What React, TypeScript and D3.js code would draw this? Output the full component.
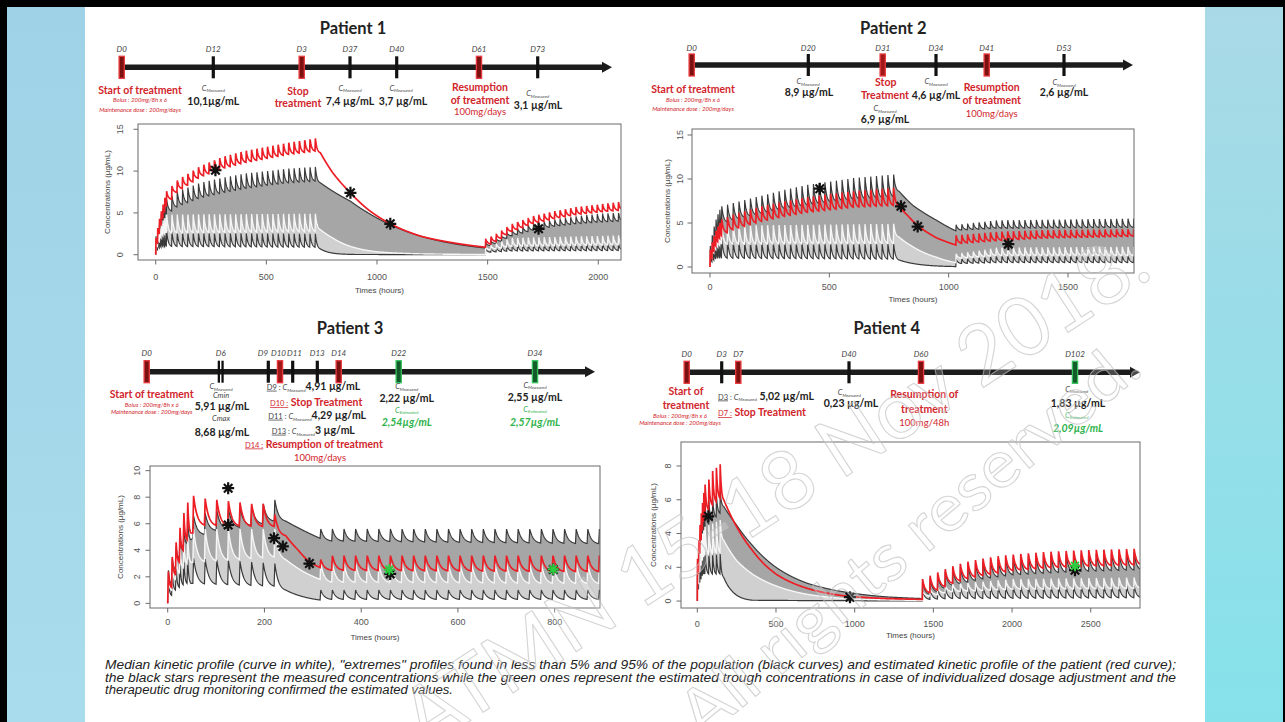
import React from 'react';
import * as d3 from 'd3';

// ---------- dosing regimens: [first dose (h), last dose (h), interval (h)] ----------
const p1Regimen = [[0, 40, 8], [48, 720, 24], [1490, 2090, 24]];
const p2Regimen = [[0, 40, 8], [48, 768, 24], [1030, 1780, 24]];
const p3Regimen = [[0, 40, 8], [52, 220, 24], [315, 893, 24]];
const p4Regimen = [[0, 40, 8], [48, 144, 24], [1430, 2810, 48]];

// ---------- curves: [time (h), concentration (µg/mL)] ----------
// peaks = value reached right after a dose, troughs = value just before a dose / washout
const p1RedPeaks = [[0, 2.0], [8, 3.2], [16, 4.3], [24, 5.2], [32, 6.0], [40, 6.8], [48, 7.6], [100, 9.0], [200, 10.6], [300, 11.7], [400, 12.4], [500, 12.9], [600, 13.4], [720, 13.9], [1490, 1.9], [1600, 3.6], [1700, 4.6], [1800, 5.2], [1900, 5.7], [2000, 6.0], [2090, 6.3]];
const p1RedTroughs = [[0, 0], [8, 1.4], [16, 2.6], [24, 3.6], [32, 4.4], [40, 5.2], [48, 5.9], [100, 7.6], [200, 9.3], [300, 10.3], [400, 11.0], [500, 11.5], [600, 12.0], [720, 12.4], [744, 12.2], [800, 9.8], [880, 7.4], [960, 5.4], [1060, 3.7], [1200, 2.2], [1350, 1.4], [1490, 0.9], [1514, 1.3], [1600, 2.7], [1700, 3.7], [1800, 4.3], [1900, 4.8], [2000, 5.1], [2090, 5.3]];
const p1UpperPeaks = [[0, 2.2], [8, 3.2], [16, 4.0], [24, 4.8], [32, 5.5], [40, 6.1], [48, 6.6], [100, 7.6], [200, 8.6], [300, 9.2], [400, 9.7], [500, 10.0], [600, 10.3], [720, 10.5], [1490, 1.4], [1600, 2.9], [1700, 3.7], [1800, 4.2], [1900, 4.6], [2000, 4.9], [2090, 5.0]];
const p1UpperTroughs = [[0, 0], [8, 1.3], [16, 2.3], [24, 3.1], [32, 3.8], [40, 4.3], [48, 4.8], [100, 5.8], [200, 6.8], [300, 7.4], [400, 7.9], [500, 8.3], [600, 8.6], [720, 8.8], [744, 8.6], [800, 7.6], [880, 6.4], [960, 5.0], [1060, 3.6], [1200, 2.2], [1350, 1.3], [1490, 0.8], [1514, 1.1], [1600, 2.2], [1700, 2.9], [1800, 3.4], [1900, 3.7], [2000, 3.9], [2090, 4.0]];
const p1WhitePeaks = [[0, 1.8], [8, 2.6], [16, 3.2], [24, 3.7], [32, 4.1], [40, 4.4], [48, 4.8], [720, 4.9], [1490, 1.0], [1600, 2.0], [2090, 2.3]];
const p1WhiteTroughs = [[0, 0], [8, 1.0], [16, 1.6], [24, 2.0], [32, 2.3], [40, 2.5], [48, 2.6], [720, 2.8], [744, 3.0], [800, 2.0], [880, 1.0], [1000, 0.35], [1200, 0.1], [1490, 0.03], [1514, 0.6], [1600, 1.0], [2090, 1.2]];
const p1LowerPeaks = [[0, 1.6], [8, 2.0], [16, 2.3], [24, 2.5], [32, 2.6], [40, 2.7], [48, 2.8], [100, 2.6], [720, 2.5], [1490, 0.7], [1600, 1.2], [2090, 1.3]];
const p1LowerTroughs = [[0, 0], [8, 0.6], [16, 0.8], [24, 0.9], [32, 1.0], [40, 1.0], [48, 1.0], [720, 0.9], [744, 0.7], [780, 0.3], [830, 0.1], [900, 0.03], [1490, 0.01], [1514, 0.3], [1600, 0.45], [2090, 0.5]];
const p1Stars = [[270, 10.1], [880, 7.4], [1060, 3.7], [1730, 3.1]];
const p1Green = [];

const p2RedPeaks = [[0, 2.0], [8, 2.8], [16, 3.5], [24, 4.1], [32, 4.6], [40, 5.0], [48, 5.4], [100, 6.0], [200, 6.8], [300, 7.4], [400, 7.9], [500, 8.3], [600, 8.6], [768, 9.0], [1030, 3.6], [1200, 4.0], [1400, 4.2], [1780, 4.3]];
const p2RedTroughs = [[0, 0], [8, 1.0], [16, 1.8], [24, 2.4], [32, 2.9], [40, 3.3], [48, 3.6], [100, 4.3], [200, 5.1], [300, 5.7], [400, 6.2], [500, 6.5], [600, 6.8], [768, 7.0], [792, 6.9], [830, 5.8], [870, 4.7], [950, 3.3], [1030, 2.5], [1054, 2.7], [1200, 3.0], [1400, 3.3], [1780, 3.5]];
const p2UpperPeaks = [[0, 2.4], [8, 3.6], [16, 4.6], [24, 5.4], [32, 6.0], [40, 6.5], [48, 6.9], [100, 7.3], [200, 8.0], [300, 8.7], [400, 9.3], [500, 9.7], [600, 10.1], [768, 10.5], [1030, 4.8], [1200, 5.3], [1780, 5.5]];
const p2UpperTroughs = [[0, 0], [8, 1.6], [16, 2.8], [24, 3.6], [32, 4.2], [40, 4.6], [48, 4.9], [100, 5.4], [200, 6.0], [300, 6.6], [400, 7.0], [500, 7.4], [600, 7.7], [768, 8.0], [792, 8.6], [850, 7.0], [950, 5.3], [1030, 4.1], [1054, 4.2], [1200, 4.4], [1780, 4.5]];
const p2WhitePeaks = [[0, 1.8], [8, 2.6], [16, 3.2], [24, 3.7], [32, 4.1], [40, 4.4], [48, 4.7], [768, 4.9], [1030, 1.5], [1200, 2.2], [1780, 2.3]];
const p2WhiteTroughs = [[0, 0], [8, 1.0], [16, 1.6], [24, 2.0], [32, 2.3], [40, 2.5], [48, 2.6], [768, 2.7], [792, 3.4], [850, 2.3], [950, 1.1], [1030, 0.5], [1054, 1.0], [1200, 1.3], [1780, 1.3]];
const p2LowerPeaks = [[0, 1.8], [8, 2.4], [16, 2.8], [24, 3.0], [32, 3.1], [40, 3.2], [48, 3.2], [100, 2.8], [768, 2.6], [1030, 0.9], [1200, 1.3], [1780, 1.3]];
const p2LowerTroughs = [[0, 0], [8, 0.6], [16, 0.8], [24, 0.9], [32, 1.0], [40, 1.0], [48, 1.0], [768, 0.9], [792, 0.8], [850, 0.4], [950, 0.12], [1030, 0.05], [1054, 0.4], [1200, 0.5], [1780, 0.5]];
const p2Stars = [[460, 8.9], [800, 6.9], [870, 4.6], [1250, 2.6]];
const p2Green = [];

const p3RedPeaks = [[0, 2.4], [8, 3.5], [16, 4.6], [24, 5.7], [32, 6.8], [40, 7.6], [52, 8.1], [76, 7.9], [100, 7.8], [124, 7.7], [148, 7.6], [172, 7.5], [196, 7.5], [220, 6.7], [315, 3.3], [340, 3.6], [893, 3.6]];
const p3RedTroughs = [[0, 0], [8, 1.2], [16, 2.2], [24, 3.1], [32, 4.0], [40, 4.8], [48, 5.3], [52, 5.3], [76, 5.9], [196, 5.8], [220, 5.8], [244, 5.1], [270, 4.0], [293, 3.1], [315, 2.7], [339, 2.5], [893, 2.4]];
const p3UpperPeaks = [[0, 2.5], [8, 3.4], [16, 4.3], [24, 5.0], [32, 5.6], [40, 6.1], [52, 6.6], [100, 7.0], [196, 7.5], [220, 7.8], [315, 5.6], [893, 5.6]];
const p3UpperTroughs = [[0, 0], [8, 1.5], [16, 2.6], [24, 3.4], [32, 4.0], [40, 4.5], [48, 4.8], [52, 4.9], [100, 5.5], [196, 6.0], [220, 6.2], [244, 6.2], [280, 5.5], [315, 4.9], [339, 4.7], [893, 4.5]];
const p3WhitePeaks = [[0, 2.0], [8, 2.8], [16, 3.5], [24, 4.1], [32, 4.6], [40, 5.0], [52, 5.6], [220, 5.6], [315, 3.0], [893, 3.0]];
const p3WhiteTroughs = [[0, 0], [8, 1.0], [16, 1.8], [24, 2.3], [32, 2.7], [40, 3.0], [48, 3.1], [52, 3.1], [220, 3.5], [244, 3.3], [280, 2.4], [315, 1.8], [339, 1.6], [893, 1.5]];
const p3LowerPeaks = [[0, 1.8], [8, 2.2], [16, 2.6], [24, 2.9], [32, 3.1], [40, 3.3], [52, 3.4], [220, 3.0], [315, 1.0], [893, 1.0]];
const p3LowerTroughs = [[0, 0], [8, 0.6], [16, 1.0], [24, 1.2], [32, 1.4], [40, 1.5], [48, 1.5], [52, 1.5], [220, 1.3], [244, 1.0], [280, 0.5], [315, 0.25], [339, 0.3], [893, 0.3]];
const p3Stars = [[125, 8.68], [125, 5.91], [220, 4.91], [238, 4.29], [293, 3.0], [460, 2.22], [797, 2.55]];
const p3Green = [[458, 2.54], [797, 2.57]];

const p4RedPeaks = [[0, 2.5], [8, 3.6], [16, 4.5], [24, 5.2], [32, 5.8], [40, 6.4], [48, 6.9], [72, 7.2], [96, 7.7], [120, 7.9], [144, 8.1], [1430, 1.3], [1500, 1.6], [1600, 2.0], [1700, 2.3], [1800, 2.5], [1900, 2.65], [2000, 2.75], [2200, 2.9], [2400, 3.0], [2810, 3.1]];
const p4RedTroughs = [[0, 0], [8, 1.6], [16, 2.8], [24, 3.6], [32, 4.2], [40, 4.7], [48, 5.0], [72, 5.4], [96, 5.7], [120, 5.9], [144, 6.1], [168, 6.0], [250, 4.4], [350, 3.0], [500, 1.6], [700, 0.75], [970, 0.27], [1200, 0.15], [1430, 0.1], [1478, 0.5], [1600, 1.0], [1700, 1.3], [1800, 1.5], [1900, 1.65], [2000, 1.8], [2200, 1.95], [2400, 2.05], [2810, 2.15]];
const p4UpperPeaks = [[0, 2.3], [8, 3.2], [16, 4.0], [24, 4.6], [32, 5.1], [40, 5.5], [48, 5.8], [144, 6.5], [1430, 1.2], [1600, 1.9], [1800, 2.3], [2000, 2.6], [2400, 2.8], [2810, 2.9]];
const p4UpperTroughs = [[0, 0], [8, 1.4], [16, 2.4], [24, 3.1], [32, 3.7], [40, 4.1], [48, 4.4], [144, 5.2], [168, 5.6], [250, 4.5], [350, 3.3], [500, 2.0], [700, 1.05], [1000, 0.45], [1200, 0.25], [1430, 0.15], [1478, 0.4], [1600, 0.9], [1800, 1.3], [2000, 1.55], [2400, 1.75], [2810, 1.85]];
const p4WhitePeaks = [[0, 1.9], [8, 2.7], [16, 3.3], [24, 3.7], [32, 4.0], [40, 4.2], [48, 4.4], [144, 4.8], [1430, 0.6], [1600, 1.0], [2000, 1.3], [2810, 1.4]];
const p4WhiteTroughs = [[0, 0], [8, 1.0], [16, 1.7], [24, 2.1], [32, 2.4], [40, 2.6], [48, 2.7], [144, 2.9], [168, 3.6], [250, 2.4], [350, 1.6], [500, 0.9], [700, 0.4], [1000, 0.12], [1430, 0.04], [1478, 0.3], [1600, 0.55], [2000, 0.7], [2810, 0.75]];
const p4LowerPeaks = [[0, 1.8], [8, 2.2], [16, 2.5], [24, 2.7], [32, 2.8], [40, 2.9], [48, 2.9], [144, 2.8], [1430, 0.6], [1600, 0.85], [2810, 0.9]];
const p4LowerTroughs = [[0, 0], [8, 0.7], [16, 1.1], [24, 1.3], [32, 1.5], [40, 1.6], [48, 1.6], [144, 1.6], [168, 1.4], [220, 0.6], [280, 0.2], [350, 0.05], [1430, 0.01], [1478, 0.1], [1600, 0.15], [2810, 0.2]];
const p4Stars = [[70, 5.02], [970, 0.23], [2400, 1.83]];
const p4Green = [[2400, 2.09]];

// axis ticks
const p1XTicks = [0, 500, 1000, 1500, 2000];
const p2XTicks = [0, 500, 1000, 1500];
const p3XTicks = [0, 200, 400, 600, 800];
const p4XTicks = [0, 500, 1000, 1500, 2000, 2500];
const p1YTicks = [0, 5, 10, 15];
const p2YTicks = [0, 5, 10, 15];
const p3YTicks = [0, 2, 4, 6, 8, 10];
const p4YTicks = [0, 2, 4, 6, 8];

// timeline day labels and marker kinds
const p1Days = ['D0', 'D12', 'D3', 'D37', 'D40', 'D61', 'D73'];
const p1Kinds = ['red2', 'black', 'red2', 'black', 'black', 'red2', 'black'];
const p2Days = ['D0', 'D20', 'D31', 'D34', 'D41', 'D53'];
const p2Kinds = ['red2', 'black', 'redFill', 'black', 'red2', 'black'];
const p3Days = ['D0', 'D6', 'D9', 'D10', 'D11', 'D13', 'D14', 'D22', 'D34'];
const p3Kinds = ['red2', 'black2', 'black', 'redFill', 'black', 'black', 'red2', 'green2', 'green2'];
const p4Days = ['D0', 'D3', 'D7', 'D40', 'D60', 'D102'];
const p4Kinds = ['red2', 'black', 'red2', 'black', 'red2', 'green2'];

const captionLines = [
  'Median kinetic profile (curve in white), "extremes" profiles found in less than 5% and 95% of the population (black curves) and estimated kinetic profile of the patient (red curve);',
  'the black stars represent the measured concentrations while the green ones represent the estimated trough concentrations in case of individualized dosage adjustment and the',
  'therapeutic drug monitoring confirmed the estimated values.',
];
const watermark = ['ATMN 15-18 Nov 2018.', 'All rights reserved.'];

// ---------- layout ----------
const W = 1285;
const H = 722;
const FONT = "Lato, 'Open Sans', sans-serif";
const RFONT = "'Liberation Sans', Arial, sans-serif";
const RED = '#d1262c';
const GREEN = '#2fb34c';
const RISE = 1.5;
const K = 3;

const panels = [
  {
    regimen: p1Regimen, stars: p1Stars, green: p1Green, xTicks: p1XTicks, yTicks: p1YTicks,
    curves: { red: [p1RedPeaks, p1RedTroughs], upper: [p1UpperPeaks, p1UpperTroughs], white: [p1WhitePeaks, p1WhiteTroughs], lower: [p1LowerPeaks, p1LowerTroughs] },
    box: [138, 124, 621, 260], xUsr: [-80, 2102.6], yUsr: [-0.63, 15.63], tickY: 280, titleY: 293, yTickX: 123.3, yTitleX: 110, step: 1,
  },
  {
    regimen: p2Regimen, stars: p2Stars, green: p2Green, xTicks: p2XTicks, yTicks: p2YTicks,
    curves: { red: [p2RedPeaks, p2RedTroughs], upper: [p2UpperPeaks, p2UpperTroughs], white: [p2WhitePeaks, p2WhiteTroughs], lower: [p2LowerPeaks, p2LowerTroughs] },
    box: [692, 129, 1134, 273], xUsr: [-75.4, 1776.5], yUsr: [-0.68, 15.68], tickY: 290, titleY: 302, yTickX: 683.3, yTitleX: 670, step: 1,
  },
  {
    regimen: p3Regimen, stars: p3Stars, green: p3Green, xTicks: p3XTicks, yTicks: p3YTicks,
    curves: { red: [p3RedPeaks, p3RedTroughs], upper: [p3UpperPeaks, p3UpperTroughs], white: [p3WhitePeaks, p3WhiteTroughs], lower: [p3LowerPeaks, p3LowerTroughs] },
    box: [150, 466, 600, 608], xUsr: [-36.6, 893.7], yUsr: [-0.35, 10.35], tickY: 625, titleY: 640, yTickX: 140, yTitleX: 123, step: 0.5,
  },
  {
    regimen: p4Regimen, stars: p4Stars, green: p4Green, xTicks: p4XTicks, yTicks: p4YTicks,
    curves: { red: [p4RedPeaks, p4RedTroughs], upper: [p4UpperPeaks, p4UpperTroughs], white: [p4WhitePeaks, p4WhiteTroughs], lower: [p4LowerPeaks, p4LowerTroughs] },
    box: [681, 442, 1140, 608], xUsr: [-103.6, 2813], yUsr: [-0.41, 9.42], tickY: 626.5, titleY: 638, yTickX: 671.3, yTitleX: 656, step: 2,
  },
];

const timelines = [
  { days: p1Days, kinds: p1Kinds, xs: [121.7, 213.3, 301.7, 350, 396.7, 479, 537.7], y: 67.3, x0: 120, x1: 612, labelY: 52 },
  { days: p2Days, kinds: p2Kinds, xs: [691.7, 808.3, 882.7, 936, 986.7, 1064], y: 65, x0: 690, x1: 1133, labelY: 51 },
  {
    days: p3Days, kinds: p3Kinds, xs: [146.7, 220.7, 268.3, 280, 292.7, 317.3, 338.7, 398.7, 535], y: 371.7, x0: 145, x1: 595, labelY: 356.3,
    labelXs: [146.7, 220.7, 263, 278.5, 294.5, 317.3, 338.7, 398.7, 535],
  },
  { days: p4Days, kinds: p4Kinds, xs: [686.7, 721.7, 738.3, 849, 921, 1075], y: 372.3, x0: 685, x1: 1140, labelY: 357.3 },
];

const ST = {
  title: { fontSize: 16.5, fontWeight: 700, fill: '#222' },
  day: { fontSize: 8, fontStyle: 'italic', fill: '#444' },
  red: { fontSize: 10.5, fontWeight: 700, fill: RED },
  redSm: { fontSize: 6, fontStyle: 'italic', fill: RED },
  redTxt: { fontSize: 9.5, fill: RED },
  val: { fontSize: 10.5, fontWeight: 700, fill: '#222' },
  c: { fontSize: 7.5, fontStyle: 'italic', fill: '#444' },
  cSub: { fontSize: 4.5, fontStyle: 'italic', fill: '#444' },
  g: { fontSize: 7.5, fontStyle: 'italic', fill: GREEN },
  gSub: { fontSize: 4.5, fontStyle: 'italic', fill: GREEN },
  gVal: { fontSize: 10.5, fontWeight: 700, fontStyle: 'italic', fill: GREEN },
  und: { fontSize: 7.5, textDecoration: 'underline', fill: '#444' },
  undRed: { fontSize: 7.5, textDecoration: 'underline', fill: RED },
  sp: { fontSize: 7.5, fill: '#444' },
};

const CM = [['c', 'C'], ['cSub', 'Measured']];
const CE = [['g', 'C'], ['gSub', 'Estimated']];
const BOLUS = 'Bolus : 200mg/8h x 6';
const MAINT = 'Maintenance dose : 200mg/days';
const A = (x, y, parts, anchor = 'middle') => ({ x, y, parts, anchor });

const notes = [
  // patient 1
  A(353, 34, [['title', 'Patient 1']]),
  A(140, 93.5, [['red', 'Start of treatment']]),
  A(140, 102.2, [['redSm', BOLUS]]),
  A(140, 111.5, [['redSm', MAINT]]),
  A(213.3, 90.5, CM), A(213.3, 104.5, [['val', '10,1µg/mL']]),
  A(298, 94.5, [['red', 'Stop']]), A(298, 107, [['red', 'treatment']]),
  A(350, 90.5, CM), A(350, 104.5, [['val', '7,4 µg/mL']]),
  A(401, 90.5, CM), A(403, 104.5, [['val', '3,7 µg/mL']]),
  A(480, 90.5, [['red', 'Resumption']]), A(480, 103.8, [['red', 'of treatment']]), A(480, 114.7, [['redTxt', '100mg/days']]),
  A(537.7, 96, CM), A(538, 108.8, [['val', '3,1 µg/mL']]),
  // patient 2
  A(893.3, 34, [['title', 'Patient 2']]),
  A(693, 92.5, [['red', 'Start of treatment']]),
  A(693, 101.5, [['redSm', BOLUS]]),
  A(693, 111.2, [['redSm', MAINT]]),
  A(808, 84.2, CM), A(809, 95.5, [['val', '8,9 µg/mL']]),
  A(885.7, 85.5, [['red', 'Stop']]), A(885, 98.8, [['red', 'Treatment']]),
  A(885, 110.8, CM), A(885, 123, [['val', '6,9 µg/mL']]),
  A(936, 84.2, CM), A(936, 98.8, [['val', '4,6 µg/mL']]),
  A(991.7, 90.5, [['red', 'Resumption']]), A(991.7, 103.8, [['red', 'of treatment']]), A(991.7, 116.5, [['redTxt', '100mg/days']]),
  A(1064, 85.2, CM), A(1064, 95.5, [['val', '2,6 µg/mL']]),
  // patient 3
  A(350, 334, [['title', 'Patient 3']]),
  A(151.7, 397.5, [['red', 'Start of treatment']]),
  A(151.7, 406.5, [['redSm', BOLUS]]),
  A(151.7, 414, [['redSm', MAINT]]),
  A(221, 389.2, CM), A(221, 397.7, [['c', 'Cmin']]), A(222, 409.5, [['val', '5,91 µg/mL']]),
  A(221, 420.8, [['c', 'Cmax']]), A(222, 435.5, [['val', '8,68 µg/mL']]),
  A(266.7, 389.7, [['und', 'D9'], ['sp', ' : '], ...CM, ['val', '4,91 µg/mL']], 'start'),
  A(270, 406, [['undRed', 'D10'], ['undRed', ' :'], ['red', ' Stop Treatment']], 'start'),
  A(268.3, 418.7, [['und', 'D11'], ['sp', ' : '], ...CM, ['val', '4,29 µg/mL']], 'start'),
  A(271.7, 433.7, [['und', 'D13'], ['sp', ' : '], ...CM, ['val', '3 µg/mL']], 'start'),
  A(245, 447.5, [['undRed', 'D14 :'], ['red', ' Resumption of treatment']], 'start'),
  A(320, 460.5, [['redTxt', '100mg/days']]),
  A(406.7, 389.2, CM), A(406.7, 402, [['val', '2,22 µg/mL']]),
  A(406.7, 412.5, CE), A(406.7, 426, [['gVal', '2,54µg/mL']]),
  A(535, 387.5, CM), A(535, 400.5, [['val', '2,55 µg/mL']]),
  A(535, 411.5, CE), A(535, 425.5, [['gVal', '2,57µg/mL']]),
  // patient 4
  A(886.7, 334, [['title', 'Patient 4']]),
  A(686, 394.5, [['red', 'Start of']]), A(686, 409.2, [['red', 'treatment']]),
  A(680, 418, [['redSm', BOLUS]]), A(680, 424.8, [['redSm', MAINT]]),
  A(718, 399.5, [['und', 'D3'], ['sp', ' : '], ...CM, ['val', ' 5,02 µg/mL']], 'start'),
  A(718, 416, [['undRed', 'D7 :'], ['red', ' Stop Treatment']], 'start'),
  A(849.3, 394.8, CM), A(851, 407, [['val', '0,23 µg/mL']]),
  A(924.3, 398, [['red', 'Resumption of']]), A(924.3, 412.7, [['red', 'treatment']]), A(924.3, 425.5, [['redTxt', '100mg/48h']]),
  A(1076.7, 391.5, CM), A(1078, 406.5, [['val', '1,83 µg/mL']]),
  A(1076.7, 417.5, CE), A(1078, 432, [['gVal', '2,09µg/mL']]),
];

// ---------- helpers ----------
function envelope(knots) {
  const ts = knots.map((k) => k[0]);
  return (t) => {
    if (t <= ts[0]) return knots[0][1];
    if (t >= ts[ts.length - 1]) return knots[knots.length - 1][1];
    const i = d3.bisectRight(ts, t) - 1;
    const [t0, v0] = knots[i];
    const [t1, v1] = knots[i + 1];
    const u = (t - t0) / (t1 - t0);
    if (v0 > 0 && v1 > 0) return v0 * Math.pow(v1 / v0, u);
    return v0 + (v1 - v0) * u;
  };
}

function doseList(regimen) {
  return regimen.flatMap(([a, b, step]) => d3.range(a, b + 0.001, step).map((t) => ({ t, dt: step })));
}

function profile(doses, peaks, troughs) {
  const pk = envelope(peaks);
  const tr = envelope(troughs);
  const times = doses.map((d) => d.t);
  const e = Math.exp(-K);
  return (t) => {
    const i = d3.bisectRight(times, t) - 1;
    if (i < 0) return tr(t);
    const d = doses[i];
    const s = t - d.t;
    if (s >= d.dt) return tr(t);
    const top = pk(d.t);
    const lo0 = tr(d.t);
    const lo1 = tr(d.t + d.dt);
    if (s < RISE) return lo0 + ((top - lo0) * s) / RISE;
    const u = (s - RISE) / (d.dt - RISE);
    const f = (Math.exp(-K * u) - e) / (1 - e);
    return lo1 + (top - lo1) * f;
  };
}

const starPath = (r) => {
  const a = r * 0.707;
  return `M${-r},0L${r},0M0,${-r}L0,${r}M${-a},${-a}L${a},${a}M${-a},${a}L${a},${-a}`;
};

const Label = ({ note }) => {
  let shift = 0;
  return (
    <text x={note.x} y={note.y} textAnchor={note.anchor} fontFamily={FONT} style={{ whiteSpace: 'pre' }}>
      {note.parts.map(([k, s], i) => {
        const isSub = k.endsWith('Sub');
        let dy = 0;
        if (isSub && shift === 0) { dy = 1.8; shift = 1.8; }
        else if (!isSub && shift !== 0) { dy = -shift; shift = 0; }
        const st = ST[k];
        return (
          <tspan key={i} dy={dy} fontSize={st.fontSize} fontWeight={st.fontWeight || 400}
            fontStyle={st.fontStyle || 'normal'} fill={st.fill} textDecoration={st.textDecoration}>
            {s}
          </tspan>
        );
      })}
    </text>
  );
};

const Marker = ({ kind, x, y }) => {
  const y0 = y - 11;
  const h = 22;
  if (kind === 'black') return <rect x={x - 1.6} y={y0} width={3.2} height={h} fill="#111" />;
  if (kind === 'black2') return (
    <g fill="#111">
      <rect x={x - 3} y={y0} width={2.3} height={h} />
      <rect x={x + 0.7} y={y0} width={2.3} height={h} />
    </g>
  );
  const stroke = kind === 'green2' ? '#35c35e' : '#e8383d';
  const fill = kind === 'green2' ? '#145a2a' : kind === 'redFill' ? '#a01818' : '#7a1212';
  return <rect x={x - 2.6} y={y0} width={5.2} height={h} fill={fill} stroke={stroke} strokeWidth={1.3} />;
};

const Timeline = ({ tl }) => (
  <g>
    <line x1={tl.x0} x2={tl.x1 - 8} y1={tl.y} y2={tl.y} stroke="#1c1c1c" strokeWidth={5.5} />
    <path d={`M${tl.x1 - 10},${tl.y - 5.5}L${tl.x1},${tl.y}L${tl.x1 - 10},${tl.y + 5.5}Z`} fill="#1c1c1c" />
    {tl.xs.map((x, i) => (
      <g key={i}>
        <Marker kind={tl.kinds[i]} x={x} y={tl.y} />
        <text x={tl.labelXs ? tl.labelXs[i] : x} y={tl.labelY} textAnchor="middle" fontFamily={FONT}
          fontSize={ST.day.fontSize} fontStyle="italic" fill={ST.day.fill}>{tl.days[i]}</text>
      </g>
    ))}
  </g>
);

const Plot = ({ p, id }) => {
  const [bx0, by0, bx1, by1] = p.box;
  const x = d3.scaleLinear().domain(p.xUsr).range([bx0, bx1]);
  const y = d3.scaleLinear().domain(p.yUsr).range([by1, by0]);
  const doses = doseList(p.regimen);
  const f = {};
  Object.entries(p.curves).forEach(([k, [pk, tr]]) => { f[k] = profile(doses, pk, tr); });
  const tmax = p.xUsr[1];
  const grid = Array.from(new Set([
    ...d3.range(0, tmax, p.step),
    ...doses.map((d) => d.t),
    ...doses.map((d) => d.t + RISE),
    tmax,
  ])).filter((t) => t >= 0 && t <= tmax).sort((a, b) => a - b);
  const rows = grid.map((t) => ({ t, lower: f.lower(t), white: f.white(t), upper: f.upper(t), red: f.red(t) }));

  const band = (lo, hi) => d3.area().x((d) => x(d.t)).y0((d) => y(d[lo])).y1((d) => y(d[hi]))(rows);
  const line = (k) => d3.line().x((d) => x(d.t)).y((d) => y(d[k]))(rows);
  const midY = (by0 + by1) / 2;

  return (
    <g>
      <defs>
        <clipPath id={id}><rect x={bx0} y={by0} width={bx1 - bx0} height={by1 - by0} /></clipPath>
      </defs>
      <g clipPath={`url(#${id})`}>
        <path d={band('lower', 'white')} fill="#d0d0d0" />
        <path d={band('white', 'upper')} fill="#a6a6a6" />
        <path d={line('lower')} fill="none" stroke="#3a3a3a" strokeWidth={1.2} />
        <path d={line('upper')} fill="none" stroke="#3a3a3a" strokeWidth={1.2} />
        <path d={line('white')} fill="none" stroke="#f6f6f6" strokeWidth={1.4} />
        <path d={line('red')} fill="none" stroke="#ec1d24" strokeWidth={1.7} />
      </g>
      {p.stars.map(([t, v], i) => (
        <path key={`s${i}`} d={starPath(6)} transform={`translate(${x(t)},${y(v)})`} stroke="#111" strokeWidth={2.2} fill="none" />
      ))}
      {p.green.map(([t, v], i) => (
        <path key={`g${i}`} d={starPath(5.5)} transform={`translate(${x(t)},${y(v)})`} stroke="#2ecc40" strokeWidth={2} fill="none" />
      ))}
      <rect x={bx0} y={by0} width={bx1 - bx0} height={by1 - by0} fill="none" stroke="#6a6a6a" strokeWidth={1} />
      <g fontFamily={RFONT} fill="#555" fontSize={9}>
        {p.xTicks.map((t) => (
          <g key={`x${t}`}>
            <line x1={x(t)} x2={x(t)} y1={by1} y2={by1 + 4.5} stroke="#6a6a6a" />
            <text x={x(t)} y={p.tickY} textAnchor="middle">{t}</text>
          </g>
        ))}
        {p.yTicks.map((v) => (
          <g key={`y${v}`}>
            <line x1={bx0 - 4.5} x2={bx0} y1={y(v)} y2={y(v)} stroke="#6a6a6a" />
            <text transform={`translate(${p.yTickX},${y(v)}) rotate(-90)`} textAnchor="middle">{v}</text>
          </g>
        ))}
        <text x={(bx0 + bx1) / 2} y={p.titleY} textAnchor="middle" fontSize={8} fill="#444">Times (hours)</text>
        <text transform={`translate(${p.yTitleX},${midY}) rotate(-90)`} textAnchor="middle" fontSize={8} fill="#444">
          Concentrations (µg/mL)
        </text>
      </g>
    </g>
  );
};

export default function App() {
  return (
    <svg width={W} height={H} style={{ position: 'absolute', left: 0, top: 0, display: 'block' }}>
      <defs>
        <linearGradient id="bgL" x1="0" y1="0" x2="0" y2="1">
          <stop offset="0" stopColor="#9fd2e6" />
          <stop offset="1" stopColor="#a9dcec" />
        </linearGradient>
        <linearGradient id="bgR" x1="0" y1="0" x2="0" y2="1">
          <stop offset="0" stopColor="#a9d9e6" />
          <stop offset="1" stopColor="#86e2ea" />
        </linearGradient>
        <clipPath id="page"><rect x={85} y={7} width={1120} height={H - 7} /></clipPath>
      </defs>
      <rect x={0} y={0} width={W} height={H} fill="#000" />
      <rect x={7} y={7} width={78} height={H - 7} fill="url(#bgL)" />
      <rect x={1205} y={7} width={78} height={H - 7} fill="url(#bgR)" />
      <rect x={85} y={7} width={1120} height={H - 7} fill="#fff" />

      {timelines.map((tl, i) => <Timeline key={i} tl={tl} />)}
      {notes.map((n, i) => <Label key={i} note={n} />)}
      {panels.map((p, i) => <Plot key={i} p={p} id={`clip${i}`} />)}

      <g fontFamily={RFONT} fontStyle="italic" fontSize={12.5} fill="#222">
        <text x={105} y={669} textLength={1071} lengthAdjust="spacingAndGlyphs">{captionLines[0]}</text>
        <text x={105} y={681.5} textLength={1071} lengthAdjust="spacingAndGlyphs">{captionLines[1]}</text>
        <text x={105} y={694} textLength={348} lengthAdjust="spacingAndGlyphs">{captionLines[2]}</text>
      </g>

      <g clipPath="url(#page)" fontFamily={FONT} fill="#ffffff" fillOpacity={0.2} stroke="#bdbdbd"
        strokeWidth={1.1} strokeOpacity={0.65}>
        <text transform="translate(425,750) rotate(-33)" fontSize={82} textLength={870}
          lengthAdjust="spacingAndGlyphs">{watermark[0]}</text>
        <text transform="translate(702,741) rotate(-39.8)" fontSize={66} textLength={576}
          lengthAdjust="spacingAndGlyphs">{watermark[1]}</text>
      </g>
    </svg>
  );
}
